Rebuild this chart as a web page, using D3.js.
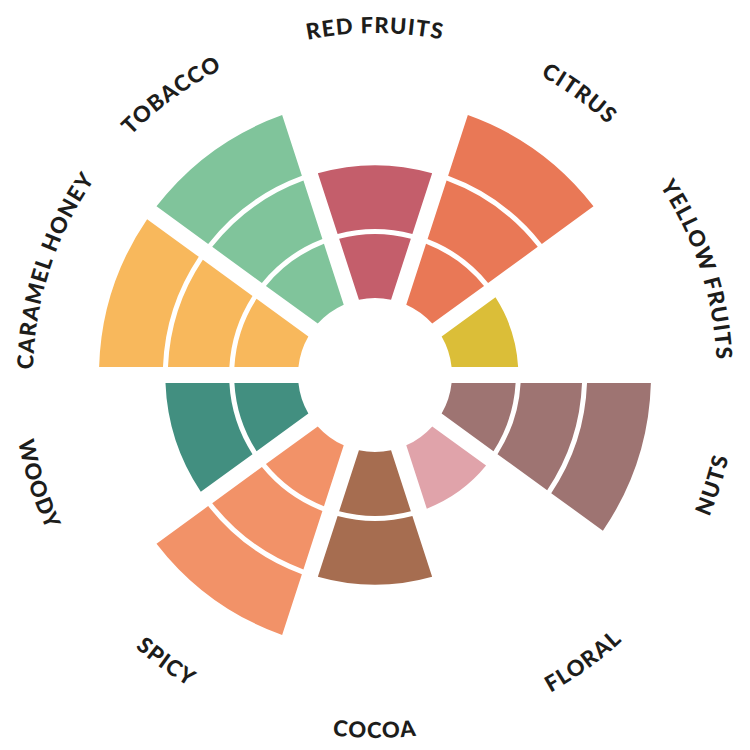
<!DOCTYPE html>
<html>
<head>
<meta charset="utf-8">
<script src="https://cdn.jsdelivr.net/npm/d3@7"></script>
<style>
  html, body { margin: 0; padding: 0; background: #fff; }
  svg { display: block; }
</style>
</head>
<body>
<svg id="chart" width="750" height="750"></svg>
<script>
const categories = ["RED FRUITS", "CITRUS", "YELLOW FRUITS", "NUTS", "FLORAL", "COCOA", "SPICY", "WOODY", "CARAMEL HONEY", "TOBACCO"];
const levels = [2, 3, 1, 3, 1, 2, 3, 2, 3, 3];
const colors = ["#c45e6b", "#e97856", "#dbbe38", "#9e7472", "#e0a3aa", "#a66d50", "#f29268", "#428f80", "#f8b85c", "#80c49b"];
const maxLevel = 3;

const W = 750, H = 750, cx = 375, cy = 375;
const svg = d3.select("#chart");
const g = svg.append("g").attr("transform", `translate(${cx},${cy})`);

const n = categories.length;
const angle = d3.scaleLinear().domain([0, n]).range([0, 2 * Math.PI]);
const r = d3.scaleLinear().domain([0, maxLevel]).range([77, 276]);
const ringGap = 2.5;

const arc = d3.arc().padAngle(0.16).padRadius(100);

categories.forEach((cat, i) => {
  const c = angle(i);
  const a0 = c - Math.PI / n, a1 = c + Math.PI / n;
  for (let k = 0; k < levels[i]; k++) {
    const inner = k === 0 ? r(0) : r(k) + ringGap;
    const outer = k === levels[i] - 1 ? r(k + 1) : r(k + 1) - ringGap;
    g.append("path")
      .attr("d", arc({ innerRadius: inner, outerRadius: outer, startAngle: a0, endAngle: a1 }))
      .attr("fill", colors[i]);
  }
});

// labels along arcs
const defs = svg.append("defs");
const topR = 342, botR = 363;
function pt(a, rad) { return [rad * Math.sin(a), -rad * Math.cos(a)]; }
categories.forEach((cat, i) => {
  const c = angle(i);
  const top = Math.cos(c) > 0;
  let d;
  if (top) {
    const p0 = pt(c - Math.PI / 2, topR), p1 = pt(c + Math.PI / 2, topR);
    d = `M${p0[0]},${p0[1]} A${topR},${topR} 0 0 1 ${p1[0]},${p1[1]}`;
  } else {
    const p0 = pt(c + Math.PI / 2, botR), p1 = pt(c - Math.PI / 2, botR);
    d = `M${p0[0]},${p0[1]} A${botR},${botR} 0 0 0 ${p1[0]},${p1[1]}`;
  }
  defs.append("path").attr("id", "lp" + i).attr("d", d)
    .attr("transform", `translate(${cx},${cy})`);
  svg.append("text")
    .attr("font-family", "Lato, 'Open Sans', sans-serif")
    .attr("font-weight", 900)
    .attr("font-size", 22)
    .attr("letter-spacing", 1.2)
    .attr("fill", "#1d1d1b")
    .append("textPath")
    .attr("href", "#lp" + i)
    .attr("startOffset", "50%")
    .attr("text-anchor", "middle")
    .text(cat);
});
</script>
</body>
</html>
